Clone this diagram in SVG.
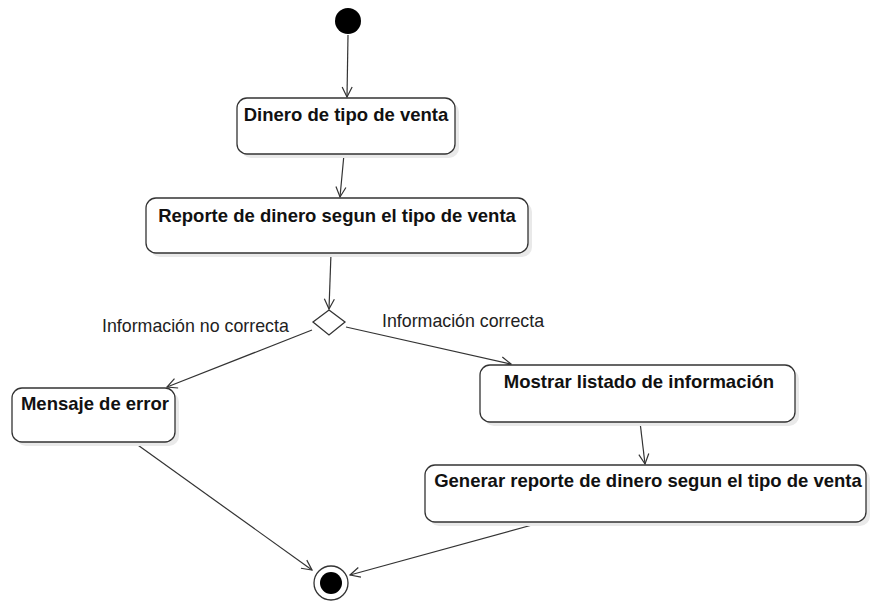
<svg xmlns="http://www.w3.org/2000/svg" width="871" height="604" viewBox="0 0 871 604">
<style>
.box{fill:#fff;stroke:#333;stroke-width:1.3}
.sh{fill:#e9e9e9}
.t{font-family:"Liberation Sans",Arial,sans-serif;font-weight:bold;font-size:18.5px;fill:#111;text-anchor:middle}
.lbl{font-family:"Liberation Sans",Arial,sans-serif;font-size:17.8px;fill:#222}
.e{fill:none;stroke:#333;stroke-width:1.2;marker-end:url(#arr)}
</style>
<defs>
<marker id="arr" viewBox="0 0 12 12" refX="11" refY="6" markerWidth="12" markerHeight="12" markerUnits="userSpaceOnUse" orient="auto">
<path d="M1,1 L11,6 L1,11" fill="none" stroke="#333" stroke-width="1.2"/>
</marker>
</defs>
<rect width="871" height="604" fill="#fff"/>
<g id="connectors">
<line class="e" x1="348" y1="35" x2="347" y2="97"/>
<line class="e" x1="344" y1="154" x2="340" y2="197"/>
<line class="e" x1="331" y1="253" x2="329" y2="309"/>
<line class="e" x1="312" y1="330" x2="167" y2="387"/>
<line class="e" x1="346" y1="327" x2="511" y2="364"/>
<line class="e" x1="640" y1="422" x2="645" y2="464"/>
<line class="e" x1="135" y1="443" x2="312" y2="570"/>
<line class="e" x1="543" y1="522" x2="350" y2="575"/>
</g>
<g id="start"><circle cx="348" cy="21" r="13" fill="#000"/></g>
<g id="n1"><rect class="sh" x="241" y="102" width="218" height="56" rx="10"/><rect class="box" x="237" y="98" width="218" height="56" rx="10"/><text class="t" x="346" y="121">Dinero de tipo de venta</text></g>
<g id="n2"><rect class="sh" x="150" y="202" width="382" height="55" rx="10"/><rect class="box" x="146" y="198" width="382" height="55" rx="10"/><text class="t" x="337" y="222">Reporte de dinero segun el tipo de venta</text></g>
<g id="decision"><polygon points="329,310 345,322 329,335 313,322" fill="#fff" stroke="#333" stroke-width="1.3"/></g>
<g id="labels"><text class="lbl" x="102" y="332">Información no correcta</text><text class="lbl" x="382" y="327">Información correcta</text></g>
<g id="n3"><rect class="sh" x="16" y="392" width="163" height="54" rx="10"/><rect class="box" x="12" y="388" width="163" height="54" rx="10"/><text class="t" x="95" y="410">Mensaje de error</text></g>
<g id="n4"><rect class="sh" x="484" y="369" width="315" height="57" rx="10"/><rect class="box" x="480" y="365" width="315" height="57" rx="10"/><text class="t" x="639" y="388">Mostrar listado de información</text></g>
<g id="n5"><rect class="sh" x="429" y="469" width="441" height="57" rx="10"/><rect class="box" x="425" y="465" width="441" height="57" rx="10"/><text class="t" x="648" y="487">Generar reporte de dinero segun el tipo de venta</text></g>
<g id="end"><circle cx="331" cy="583" r="17" fill="#fff" stroke="#333" stroke-width="1.3"/><circle cx="331" cy="583" r="11" fill="#000"/></g>
</svg>
